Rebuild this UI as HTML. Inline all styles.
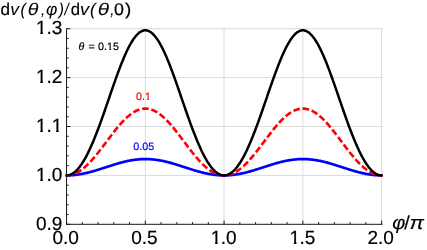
<!DOCTYPE html>
<html><head><meta charset="utf-8"><title>plot</title>
<style>html,body{margin:0;padding:0;background:#fff;}svg{display:block;will-change:transform;}text{text-rendering:geometricPrecision;}</style></head>
<body>
<svg width="427" height="250" viewBox="0 0 427 250">
<defs><clipPath id="c1"><rect x="-1" y="-19.00" width="21.00" height="16.48"/><rect x="4.33" y="-2.72" width="2.58" height="3.72"/></clipPath><clipPath id="c2"><rect x="-1" y="-10.70" width="12.70" height="8.80"/><rect x="2.24" y="-2.10" width="1.85" height="3.10"/></clipPath></defs>
<g stroke="#dbdbdb" stroke-width="1" fill="none"><line x1="145.31" y1="28.70" x2="145.31" y2="224.30"/><line x1="224.07" y1="28.70" x2="224.07" y2="224.30"/><line x1="302.84" y1="28.70" x2="302.84" y2="224.30"/><line x1="381.60" y1="28.70" x2="381.60" y2="224.30"/><line x1="66.55" y1="175.40" x2="382.80" y2="175.40"/><line x1="66.55" y1="126.50" x2="382.80" y2="126.50"/><line x1="66.55" y1="77.60" x2="382.80" y2="77.60"/><line x1="66.55" y1="28.70" x2="382.80" y2="28.70"/></g>
<path d="M66.55,175.40 L67.34,175.40 L68.13,175.38 L68.91,175.36 L69.70,175.34 L70.49,175.30 L71.28,175.26 L72.06,175.20 L72.85,175.14 L73.64,175.08 L74.43,175.00 L75.21,174.92 L76.00,174.83 L76.79,174.73 L77.58,174.62 L78.36,174.51 L79.15,174.39 L79.94,174.26 L80.73,174.13 L81.51,173.99 L82.30,173.84 L83.09,173.69 L83.88,173.53 L84.67,173.36 L85.45,173.19 L86.24,173.01 L87.03,172.82 L87.82,172.63 L88.60,172.44 L89.39,172.24 L90.18,172.03 L90.97,171.82 L91.75,171.61 L92.54,171.39 L93.33,171.17 L94.12,170.94 L94.90,170.71 L95.69,170.48 L96.48,170.24 L97.27,170.00 L98.06,169.76 L98.84,169.51 L99.63,169.26 L100.42,169.02 L101.21,168.76 L101.99,168.51 L102.78,168.26 L103.57,168.00 L104.36,167.75 L105.14,167.49 L105.93,167.23 L106.72,166.98 L107.51,166.72 L108.29,166.47 L109.08,166.21 L109.87,165.96 L110.66,165.70 L111.44,165.45 L112.23,165.20 L113.02,164.96 L113.81,164.71 L114.60,164.47 L115.38,164.23 L116.17,163.99 L116.96,163.76 L117.75,163.53 L118.53,163.30 L119.32,163.08 L120.11,162.86 L120.90,162.64 L121.68,162.43 L122.47,162.23 L123.26,162.03 L124.05,161.83 L124.83,161.64 L125.62,161.46 L126.41,161.28 L127.20,161.11 L127.98,160.94 L128.77,160.78 L129.56,160.63 L130.35,160.48 L131.14,160.34 L131.92,160.20 L132.71,160.08 L133.50,159.96 L134.29,159.84 L135.07,159.74 L135.86,159.64 L136.65,159.55 L137.44,159.47 L138.22,159.39 L139.01,159.32 L139.80,159.26 L140.59,159.21 L141.37,159.17 L142.16,159.13 L142.95,159.10 L143.74,159.08 L144.52,159.07 L145.31,159.07 L146.10,159.07 L146.89,159.08 L147.68,159.10 L148.46,159.13 L149.25,159.17 L150.04,159.21 L150.83,159.26 L151.61,159.32 L152.40,159.39 L153.19,159.47 L153.98,159.55 L154.76,159.64 L155.55,159.74 L156.34,159.84 L157.13,159.96 L157.91,160.08 L158.70,160.20 L159.49,160.34 L160.28,160.48 L161.06,160.63 L161.85,160.78 L162.64,160.94 L163.43,161.11 L164.22,161.28 L165.00,161.46 L165.79,161.64 L166.58,161.83 L167.37,162.03 L168.15,162.23 L168.94,162.43 L169.73,162.64 L170.52,162.86 L171.30,163.08 L172.09,163.30 L172.88,163.53 L173.67,163.76 L174.45,163.99 L175.24,164.23 L176.03,164.47 L176.82,164.71 L177.61,164.96 L178.39,165.20 L179.18,165.45 L179.97,165.70 L180.76,165.96 L181.54,166.21 L182.33,166.47 L183.12,166.72 L183.91,166.98 L184.69,167.23 L185.48,167.49 L186.27,167.75 L187.06,168.00 L187.84,168.26 L188.63,168.51 L189.42,168.76 L190.21,169.02 L190.99,169.26 L191.78,169.51 L192.57,169.76 L193.36,170.00 L194.15,170.24 L194.93,170.48 L195.72,170.71 L196.51,170.94 L197.30,171.17 L198.08,171.39 L198.87,171.61 L199.66,171.82 L200.45,172.03 L201.23,172.24 L202.02,172.44 L202.81,172.63 L203.60,172.82 L204.38,173.01 L205.17,173.19 L205.96,173.36 L206.75,173.53 L207.53,173.69 L208.32,173.84 L209.11,173.99 L209.90,174.13 L210.69,174.26 L211.47,174.39 L212.26,174.51 L213.05,174.62 L213.84,174.73 L214.62,174.83 L215.41,174.92 L216.20,175.00 L216.99,175.08 L217.77,175.14 L218.56,175.20 L219.35,175.26 L220.14,175.30 L220.92,175.34 L221.71,175.36 L222.50,175.38 L223.29,175.40 L224.07,175.40 L224.86,175.40 L225.65,175.38 L226.44,175.36 L227.23,175.34 L228.01,175.30 L228.80,175.26 L229.59,175.20 L230.38,175.14 L231.16,175.08 L231.95,175.00 L232.74,174.92 L233.53,174.83 L234.31,174.73 L235.10,174.62 L235.89,174.51 L236.68,174.39 L237.46,174.26 L238.25,174.13 L239.04,173.99 L239.83,173.84 L240.62,173.69 L241.40,173.53 L242.19,173.36 L242.98,173.19 L243.77,173.01 L244.55,172.82 L245.34,172.63 L246.13,172.44 L246.92,172.24 L247.70,172.03 L248.49,171.82 L249.28,171.61 L250.07,171.39 L250.85,171.17 L251.64,170.94 L252.43,170.71 L253.22,170.48 L254.00,170.24 L254.79,170.00 L255.58,169.76 L256.37,169.51 L257.16,169.26 L257.94,169.02 L258.73,168.76 L259.52,168.51 L260.31,168.26 L261.09,168.00 L261.88,167.75 L262.67,167.49 L263.46,167.23 L264.24,166.98 L265.03,166.72 L265.82,166.47 L266.61,166.21 L267.39,165.96 L268.18,165.70 L268.97,165.45 L269.76,165.20 L270.54,164.96 L271.33,164.71 L272.12,164.47 L272.91,164.23 L273.70,163.99 L274.48,163.76 L275.27,163.53 L276.06,163.30 L276.85,163.08 L277.63,162.86 L278.42,162.64 L279.21,162.43 L280.00,162.23 L280.78,162.03 L281.57,161.83 L282.36,161.64 L283.15,161.46 L283.93,161.28 L284.72,161.11 L285.51,160.94 L286.30,160.78 L287.08,160.63 L287.87,160.48 L288.66,160.34 L289.45,160.20 L290.24,160.08 L291.02,159.96 L291.81,159.84 L292.60,159.74 L293.39,159.64 L294.17,159.55 L294.96,159.47 L295.75,159.39 L296.54,159.32 L297.32,159.26 L298.11,159.21 L298.90,159.17 L299.69,159.13 L300.47,159.10 L301.26,159.08 L302.05,159.07 L302.84,159.07 L303.63,159.07 L304.41,159.08 L305.20,159.10 L305.99,159.13 L306.78,159.17 L307.56,159.21 L308.35,159.26 L309.14,159.32 L309.93,159.39 L310.71,159.47 L311.50,159.55 L312.29,159.64 L313.08,159.74 L313.86,159.84 L314.65,159.96 L315.44,160.08 L316.23,160.20 L317.01,160.34 L317.80,160.48 L318.59,160.63 L319.38,160.78 L320.17,160.94 L320.95,161.11 L321.74,161.28 L322.53,161.46 L323.32,161.64 L324.10,161.83 L324.89,162.03 L325.68,162.23 L326.47,162.43 L327.25,162.64 L328.04,162.86 L328.83,163.08 L329.62,163.30 L330.40,163.53 L331.19,163.76 L331.98,163.99 L332.77,164.23 L333.55,164.47 L334.34,164.71 L335.13,164.96 L335.92,165.20 L336.71,165.45 L337.49,165.70 L338.28,165.96 L339.07,166.21 L339.86,166.47 L340.64,166.72 L341.43,166.98 L342.22,167.23 L343.01,167.49 L343.79,167.75 L344.58,168.00 L345.37,168.26 L346.16,168.51 L346.94,168.76 L347.73,169.02 L348.52,169.26 L349.31,169.51 L350.10,169.76 L350.88,170.00 L351.67,170.24 L352.46,170.48 L353.25,170.71 L354.03,170.94 L354.82,171.17 L355.61,171.39 L356.40,171.61 L357.18,171.82 L357.97,172.03 L358.76,172.24 L359.55,172.44 L360.33,172.63 L361.12,172.82 L361.91,173.01 L362.70,173.19 L363.48,173.36 L364.27,173.53 L365.06,173.69 L365.85,173.84 L366.64,173.99 L367.42,174.13 L368.21,174.26 L369.00,174.39 L369.79,174.51 L370.57,174.62 L371.36,174.73 L372.15,174.83 L372.94,174.92 L373.72,175.00 L374.51,175.08 L375.30,175.14 L376.09,175.20 L376.87,175.26 L377.66,175.30 L378.45,175.34 L379.24,175.36 L380.02,175.38 L380.81,175.40 L381.60,175.40" fill="none" stroke="#0000ff" stroke-width="2.7" stroke-linejoin="round"/>
<path d="M66.55,175.40 L67.34,175.38 L68.13,175.34 L68.91,175.26 L69.70,175.14 L70.49,175.00 L71.28,174.83 L72.06,174.62 L72.85,174.38 L73.64,174.11 L74.43,173.81 L75.21,173.48 L76.00,173.12 L76.79,172.73 L77.58,172.31 L78.36,171.86 L79.15,171.38 L79.94,170.88 L80.73,170.34 L81.51,169.78 L82.30,169.19 L83.09,168.58 L83.88,167.93 L84.67,167.27 L85.45,166.58 L86.24,165.86 L87.03,165.12 L87.82,164.36 L88.60,163.58 L89.39,162.78 L90.18,161.95 L90.97,161.11 L91.75,160.25 L92.54,159.36 L93.33,158.47 L94.12,157.55 L94.90,156.62 L95.69,155.68 L96.48,154.72 L97.27,153.75 L98.06,152.76 L98.84,151.77 L99.63,150.77 L100.42,149.75 L101.21,148.73 L101.99,147.70 L102.78,146.67 L103.57,145.63 L104.36,144.59 L105.14,143.54 L105.93,142.49 L106.72,141.44 L107.51,140.39 L108.29,139.34 L109.08,138.30 L109.87,137.25 L110.66,136.21 L111.44,135.18 L112.23,134.15 L113.02,133.13 L113.81,132.12 L114.60,131.12 L115.38,130.13 L116.17,129.15 L116.96,128.18 L117.75,127.23 L118.53,126.29 L119.32,125.36 L120.11,124.45 L120.90,123.56 L121.68,122.69 L122.47,121.84 L123.26,121.00 L124.05,120.19 L124.83,119.40 L125.62,118.63 L126.41,117.88 L127.20,117.16 L127.98,116.47 L128.77,115.79 L129.56,115.15 L130.35,114.53 L131.14,113.94 L131.92,113.38 L132.71,112.85 L133.50,112.34 L134.29,111.87 L135.07,111.43 L135.86,111.01 L136.65,110.63 L137.44,110.28 L138.22,109.97 L139.01,109.68 L139.80,109.43 L140.59,109.21 L141.37,109.03 L142.16,108.87 L142.95,108.76 L143.74,108.67 L144.52,108.62 L145.31,108.60 L146.10,108.62 L146.89,108.67 L147.68,108.76 L148.46,108.87 L149.25,109.03 L150.04,109.21 L150.83,109.43 L151.61,109.68 L152.40,109.97 L153.19,110.28 L153.98,110.63 L154.76,111.01 L155.55,111.43 L156.34,111.87 L157.13,112.34 L157.91,112.85 L158.70,113.38 L159.49,113.94 L160.28,114.53 L161.06,115.15 L161.85,115.79 L162.64,116.47 L163.43,117.16 L164.22,117.88 L165.00,118.63 L165.79,119.40 L166.58,120.19 L167.37,121.00 L168.15,121.84 L168.94,122.69 L169.73,123.56 L170.52,124.45 L171.30,125.36 L172.09,126.29 L172.88,127.23 L173.67,128.18 L174.45,129.15 L175.24,130.13 L176.03,131.12 L176.82,132.12 L177.61,133.13 L178.39,134.15 L179.18,135.18 L179.97,136.21 L180.76,137.25 L181.54,138.30 L182.33,139.34 L183.12,140.39 L183.91,141.44 L184.69,142.49 L185.48,143.54 L186.27,144.59 L187.06,145.63 L187.84,146.67 L188.63,147.70 L189.42,148.73 L190.21,149.75 L190.99,150.77 L191.78,151.77 L192.57,152.76 L193.36,153.75 L194.15,154.72 L194.93,155.68 L195.72,156.62 L196.51,157.55 L197.30,158.47 L198.08,159.36 L198.87,160.25 L199.66,161.11 L200.45,161.95 L201.23,162.78 L202.02,163.58 L202.81,164.36 L203.60,165.12 L204.38,165.86 L205.17,166.58 L205.96,167.27 L206.75,167.93 L207.53,168.58 L208.32,169.19 L209.11,169.78 L209.90,170.34 L210.69,170.88 L211.47,171.38 L212.26,171.86 L213.05,172.31 L213.84,172.73 L214.62,173.12 L215.41,173.48 L216.20,173.81 L216.99,174.11 L217.77,174.38 L218.56,174.62 L219.35,174.83 L220.14,175.00 L220.92,175.14 L221.71,175.26 L222.50,175.34 L223.29,175.38 L224.07,175.40 L224.86,175.38 L225.65,175.34 L226.44,175.26 L227.23,175.14 L228.01,175.00 L228.80,174.83 L229.59,174.62 L230.38,174.38 L231.16,174.11 L231.95,173.81 L232.74,173.48 L233.53,173.12 L234.31,172.73 L235.10,172.31 L235.89,171.86 L236.68,171.38 L237.46,170.88 L238.25,170.34 L239.04,169.78 L239.83,169.19 L240.62,168.58 L241.40,167.93 L242.19,167.27 L242.98,166.58 L243.77,165.86 L244.55,165.12 L245.34,164.36 L246.13,163.58 L246.92,162.78 L247.70,161.95 L248.49,161.11 L249.28,160.25 L250.07,159.36 L250.85,158.47 L251.64,157.55 L252.43,156.62 L253.22,155.68 L254.00,154.72 L254.79,153.75 L255.58,152.76 L256.37,151.77 L257.16,150.77 L257.94,149.75 L258.73,148.73 L259.52,147.70 L260.31,146.67 L261.09,145.63 L261.88,144.59 L262.67,143.54 L263.46,142.49 L264.24,141.44 L265.03,140.39 L265.82,139.34 L266.61,138.30 L267.39,137.25 L268.18,136.21 L268.97,135.18 L269.76,134.15 L270.54,133.13 L271.33,132.12 L272.12,131.12 L272.91,130.13 L273.70,129.15 L274.48,128.18 L275.27,127.23 L276.06,126.29 L276.85,125.36 L277.63,124.45 L278.42,123.56 L279.21,122.69 L280.00,121.84 L280.78,121.00 L281.57,120.19 L282.36,119.40 L283.15,118.63 L283.93,117.88 L284.72,117.16 L285.51,116.47 L286.30,115.79 L287.08,115.15 L287.87,114.53 L288.66,113.94 L289.45,113.38 L290.24,112.85 L291.02,112.34 L291.81,111.87 L292.60,111.43 L293.39,111.01 L294.17,110.63 L294.96,110.28 L295.75,109.97 L296.54,109.68 L297.32,109.43 L298.11,109.21 L298.90,109.03 L299.69,108.87 L300.47,108.76 L301.26,108.67 L302.05,108.62 L302.84,108.60 L303.63,108.62 L304.41,108.67 L305.20,108.76 L305.99,108.87 L306.78,109.03 L307.56,109.21 L308.35,109.43 L309.14,109.68 L309.93,109.97 L310.71,110.28 L311.50,110.63 L312.29,111.01 L313.08,111.43 L313.86,111.87 L314.65,112.34 L315.44,112.85 L316.23,113.38 L317.01,113.94 L317.80,114.53 L318.59,115.15 L319.38,115.79 L320.17,116.47 L320.95,117.16 L321.74,117.88 L322.53,118.63 L323.32,119.40 L324.10,120.19 L324.89,121.00 L325.68,121.84 L326.47,122.69 L327.25,123.56 L328.04,124.45 L328.83,125.36 L329.62,126.29 L330.40,127.23 L331.19,128.18 L331.98,129.15 L332.77,130.13 L333.55,131.12 L334.34,132.12 L335.13,133.13 L335.92,134.15 L336.71,135.18 L337.49,136.21 L338.28,137.25 L339.07,138.30 L339.86,139.34 L340.64,140.39 L341.43,141.44 L342.22,142.49 L343.01,143.54 L343.79,144.59 L344.58,145.63 L345.37,146.67 L346.16,147.70 L346.94,148.73 L347.73,149.75 L348.52,150.77 L349.31,151.77 L350.10,152.76 L350.88,153.75 L351.67,154.72 L352.46,155.68 L353.25,156.62 L354.03,157.55 L354.82,158.47 L355.61,159.36 L356.40,160.25 L357.18,161.11 L357.97,161.95 L358.76,162.78 L359.55,163.58 L360.33,164.36 L361.12,165.12 L361.91,165.86 L362.70,166.58 L363.48,167.27 L364.27,167.93 L365.06,168.58 L365.85,169.19 L366.64,169.78 L367.42,170.34 L368.21,170.88 L369.00,171.38 L369.79,171.86 L370.57,172.31 L371.36,172.73 L372.15,173.12 L372.94,173.48 L373.72,173.81 L374.51,174.11 L375.30,174.38 L376.09,174.62 L376.87,174.83 L377.66,175.00 L378.45,175.14 L379.24,175.26 L380.02,175.34 L380.81,175.38 L381.60,175.40" fill="none" stroke="#ff0000" stroke-width="2.6" stroke-dasharray="6.6 2.8" stroke-linejoin="round"/>
<path d="M66.55,175.40 L67.34,175.37 L68.13,175.27 L68.91,175.12 L69.70,174.90 L70.49,174.61 L71.28,174.27 L72.06,173.86 L72.85,173.39 L73.64,172.86 L74.43,172.26 L75.21,171.61 L76.00,170.89 L76.79,170.12 L77.58,169.28 L78.36,168.39 L79.15,167.43 L79.94,166.42 L80.73,165.35 L81.51,164.23 L82.30,163.04 L83.09,161.81 L83.88,160.52 L84.67,159.17 L85.45,157.77 L86.24,156.32 L87.03,154.82 L87.82,153.27 L88.60,151.67 L89.39,150.03 L90.18,148.34 L90.97,146.60 L91.75,144.82 L92.54,143.00 L93.33,141.14 L94.12,139.24 L94.90,137.30 L95.69,135.32 L96.48,133.31 L97.27,131.27 L98.06,129.20 L98.84,127.10 L99.63,124.97 L100.42,122.82 L101.21,120.64 L101.99,118.44 L102.78,116.22 L103.57,113.99 L104.36,111.73 L105.14,109.47 L105.93,107.20 L106.72,104.91 L107.51,102.62 L108.29,100.33 L109.08,98.04 L109.87,95.74 L110.66,93.45 L111.44,91.17 L112.23,88.89 L113.02,86.62 L113.81,84.37 L114.60,82.13 L115.38,79.90 L116.17,77.70 L116.96,75.52 L117.75,73.37 L118.53,71.24 L119.32,69.14 L120.11,67.08 L120.90,65.05 L121.68,63.06 L122.47,61.10 L123.26,59.19 L124.05,57.33 L124.83,55.50 L125.62,53.73 L126.41,52.01 L127.20,50.34 L127.98,48.72 L128.77,47.17 L129.56,45.67 L130.35,44.23 L131.14,42.85 L131.92,41.54 L132.71,40.29 L133.50,39.11 L134.29,38.00 L135.07,36.96 L135.86,36.00 L136.65,35.10 L137.44,34.28 L138.22,33.53 L139.01,32.86 L139.80,32.27 L140.59,31.75 L141.37,31.31 L142.16,30.95 L142.95,30.67 L143.74,30.47 L144.52,30.35 L145.31,30.31 L146.10,30.35 L146.89,30.47 L147.68,30.67 L148.46,30.95 L149.25,31.31 L150.04,31.75 L150.83,32.27 L151.61,32.86 L152.40,33.53 L153.19,34.28 L153.98,35.10 L154.76,36.00 L155.55,36.96 L156.34,38.00 L157.13,39.11 L157.91,40.29 L158.70,41.54 L159.49,42.85 L160.28,44.23 L161.06,45.67 L161.85,47.17 L162.64,48.72 L163.43,50.34 L164.22,52.01 L165.00,53.73 L165.79,55.50 L166.58,57.33 L167.37,59.19 L168.15,61.10 L168.94,63.06 L169.73,65.05 L170.52,67.08 L171.30,69.14 L172.09,71.24 L172.88,73.37 L173.67,75.52 L174.45,77.70 L175.24,79.90 L176.03,82.13 L176.82,84.37 L177.61,86.62 L178.39,88.89 L179.18,91.17 L179.97,93.45 L180.76,95.74 L181.54,98.04 L182.33,100.33 L183.12,102.62 L183.91,104.91 L184.69,107.20 L185.48,109.47 L186.27,111.73 L187.06,113.99 L187.84,116.22 L188.63,118.44 L189.42,120.64 L190.21,122.82 L190.99,124.97 L191.78,127.10 L192.57,129.20 L193.36,131.27 L194.15,133.31 L194.93,135.32 L195.72,137.30 L196.51,139.24 L197.30,141.14 L198.08,143.00 L198.87,144.82 L199.66,146.60 L200.45,148.34 L201.23,150.03 L202.02,151.67 L202.81,153.27 L203.60,154.82 L204.38,156.32 L205.17,157.77 L205.96,159.17 L206.75,160.52 L207.53,161.81 L208.32,163.04 L209.11,164.23 L209.90,165.35 L210.69,166.42 L211.47,167.43 L212.26,168.39 L213.05,169.28 L213.84,170.12 L214.62,170.89 L215.41,171.61 L216.20,172.26 L216.99,172.86 L217.77,173.39 L218.56,173.86 L219.35,174.27 L220.14,174.61 L220.92,174.90 L221.71,175.12 L222.50,175.27 L223.29,175.37 L224.07,175.40 L224.86,175.37 L225.65,175.27 L226.44,175.12 L227.23,174.90 L228.01,174.61 L228.80,174.27 L229.59,173.86 L230.38,173.39 L231.16,172.86 L231.95,172.26 L232.74,171.61 L233.53,170.89 L234.31,170.12 L235.10,169.28 L235.89,168.39 L236.68,167.43 L237.46,166.42 L238.25,165.35 L239.04,164.23 L239.83,163.04 L240.62,161.81 L241.40,160.52 L242.19,159.17 L242.98,157.77 L243.77,156.32 L244.55,154.82 L245.34,153.27 L246.13,151.67 L246.92,150.03 L247.70,148.34 L248.49,146.60 L249.28,144.82 L250.07,143.00 L250.85,141.14 L251.64,139.24 L252.43,137.30 L253.22,135.32 L254.00,133.31 L254.79,131.27 L255.58,129.20 L256.37,127.10 L257.16,124.97 L257.94,122.82 L258.73,120.64 L259.52,118.44 L260.31,116.22 L261.09,113.99 L261.88,111.73 L262.67,109.47 L263.46,107.20 L264.24,104.91 L265.03,102.62 L265.82,100.33 L266.61,98.04 L267.39,95.74 L268.18,93.45 L268.97,91.17 L269.76,88.89 L270.54,86.62 L271.33,84.37 L272.12,82.13 L272.91,79.90 L273.70,77.70 L274.48,75.52 L275.27,73.37 L276.06,71.24 L276.85,69.14 L277.63,67.08 L278.42,65.05 L279.21,63.06 L280.00,61.10 L280.78,59.19 L281.57,57.33 L282.36,55.50 L283.15,53.73 L283.93,52.01 L284.72,50.34 L285.51,48.72 L286.30,47.17 L287.08,45.67 L287.87,44.23 L288.66,42.85 L289.45,41.54 L290.24,40.29 L291.02,39.11 L291.81,38.00 L292.60,36.96 L293.39,36.00 L294.17,35.10 L294.96,34.28 L295.75,33.53 L296.54,32.86 L297.32,32.27 L298.11,31.75 L298.90,31.31 L299.69,30.95 L300.47,30.67 L301.26,30.47 L302.05,30.35 L302.84,30.31 L303.63,30.35 L304.41,30.47 L305.20,30.67 L305.99,30.95 L306.78,31.31 L307.56,31.75 L308.35,32.27 L309.14,32.86 L309.93,33.53 L310.71,34.28 L311.50,35.10 L312.29,36.00 L313.08,36.96 L313.86,38.00 L314.65,39.11 L315.44,40.29 L316.23,41.54 L317.01,42.85 L317.80,44.23 L318.59,45.67 L319.38,47.17 L320.17,48.72 L320.95,50.34 L321.74,52.01 L322.53,53.73 L323.32,55.50 L324.10,57.33 L324.89,59.19 L325.68,61.10 L326.47,63.06 L327.25,65.05 L328.04,67.08 L328.83,69.14 L329.62,71.24 L330.40,73.37 L331.19,75.52 L331.98,77.70 L332.77,79.90 L333.55,82.13 L334.34,84.37 L335.13,86.62 L335.92,88.89 L336.71,91.17 L337.49,93.45 L338.28,95.74 L339.07,98.04 L339.86,100.33 L340.64,102.62 L341.43,104.91 L342.22,107.20 L343.01,109.47 L343.79,111.73 L344.58,113.99 L345.37,116.22 L346.16,118.44 L346.94,120.64 L347.73,122.82 L348.52,124.97 L349.31,127.10 L350.10,129.20 L350.88,131.27 L351.67,133.31 L352.46,135.32 L353.25,137.30 L354.03,139.24 L354.82,141.14 L355.61,143.00 L356.40,144.82 L357.18,146.60 L357.97,148.34 L358.76,150.03 L359.55,151.67 L360.33,153.27 L361.12,154.82 L361.91,156.32 L362.70,157.77 L363.48,159.17 L364.27,160.52 L365.06,161.81 L365.85,163.04 L366.64,164.23 L367.42,165.35 L368.21,166.42 L369.00,167.43 L369.79,168.39 L370.57,169.28 L371.36,170.12 L372.15,170.89 L372.94,171.61 L373.72,172.26 L374.51,172.86 L375.30,173.39 L376.09,173.86 L376.87,174.27 L377.66,174.61 L378.45,174.90 L379.24,175.12 L380.02,175.27 L380.81,175.37 L381.60,175.40" fill="none" stroke="#000" stroke-width="2.5" stroke-linejoin="round" stroke-linecap="square"/>
<g stroke="#1a1a1a" stroke-width="1.0" fill="none"><line x1="66.55" y1="28.20" x2="66.55" y2="224.80"/><line x1="66.05" y1="224.30" x2="382.60" y2="224.30"/><line x1="66.55" y1="224.30" x2="66.55" y2="220.70"/><line x1="82.30" y1="224.30" x2="82.30" y2="222.10"/><line x1="98.06" y1="224.30" x2="98.06" y2="222.10"/><line x1="113.81" y1="224.30" x2="113.81" y2="222.10"/><line x1="129.56" y1="224.30" x2="129.56" y2="222.10"/><line x1="145.31" y1="224.30" x2="145.31" y2="220.70"/><line x1="161.06" y1="224.30" x2="161.06" y2="222.10"/><line x1="176.82" y1="224.30" x2="176.82" y2="222.10"/><line x1="192.57" y1="224.30" x2="192.57" y2="222.10"/><line x1="208.32" y1="224.30" x2="208.32" y2="222.10"/><line x1="224.07" y1="224.30" x2="224.07" y2="220.70"/><line x1="239.83" y1="224.30" x2="239.83" y2="222.10"/><line x1="255.58" y1="224.30" x2="255.58" y2="222.10"/><line x1="271.33" y1="224.30" x2="271.33" y2="222.10"/><line x1="287.08" y1="224.30" x2="287.08" y2="222.10"/><line x1="302.84" y1="224.30" x2="302.84" y2="220.70"/><line x1="318.59" y1="224.30" x2="318.59" y2="222.10"/><line x1="334.34" y1="224.30" x2="334.34" y2="222.10"/><line x1="350.10" y1="224.30" x2="350.10" y2="222.10"/><line x1="365.85" y1="224.30" x2="365.85" y2="222.10"/><line x1="381.60" y1="224.30" x2="381.60" y2="220.70"/><line x1="66.55" y1="224.30" x2="70.35" y2="224.30"/><line x1="66.55" y1="214.52" x2="68.65" y2="214.52"/><line x1="66.55" y1="204.74" x2="68.65" y2="204.74"/><line x1="66.55" y1="194.96" x2="68.65" y2="194.96"/><line x1="66.55" y1="185.18" x2="68.65" y2="185.18"/><line x1="66.55" y1="175.40" x2="70.35" y2="175.40"/><line x1="66.55" y1="165.62" x2="68.65" y2="165.62"/><line x1="66.55" y1="155.84" x2="68.65" y2="155.84"/><line x1="66.55" y1="146.06" x2="68.65" y2="146.06"/><line x1="66.55" y1="136.28" x2="68.65" y2="136.28"/><line x1="66.55" y1="126.50" x2="70.35" y2="126.50"/><line x1="66.55" y1="116.72" x2="68.65" y2="116.72"/><line x1="66.55" y1="106.94" x2="68.65" y2="106.94"/><line x1="66.55" y1="97.16" x2="68.65" y2="97.16"/><line x1="66.55" y1="87.38" x2="68.65" y2="87.38"/><line x1="66.55" y1="77.60" x2="70.35" y2="77.60"/><line x1="66.55" y1="67.82" x2="68.65" y2="67.82"/><line x1="66.55" y1="58.04" x2="68.65" y2="58.04"/><line x1="66.55" y1="48.26" x2="68.65" y2="48.26"/><line x1="66.55" y1="38.48" x2="68.65" y2="38.48"/><line x1="66.55" y1="28.70" x2="70.35" y2="28.70"/></g>
<g font-family="'Liberation Sans', sans-serif" font-size="19.0" fill="#000" stroke="#000" stroke-width="0.2"><text x="35.99" y="229.80">0.9</text><g transform="translate(35.99 180.90)" clip-path="url(#c1)"><text>1</text></g><text x="46.55" y="180.90">.0</text><g transform="translate(35.99 132.00)" clip-path="url(#c1)"><text>1</text></g><text x="46.55" y="132.00">.</text><g transform="translate(51.83 132.00)" clip-path="url(#c1)"><text>1</text></g><g transform="translate(35.99 83.10)" clip-path="url(#c1)"><text>1</text></g><text x="46.55" y="83.10">.2</text><g transform="translate(35.99 34.20)" clip-path="url(#c1)"><text>1</text></g><text x="46.55" y="34.20">.3</text><text x="52.44" y="243.80">0.0</text><text x="131.21" y="243.80">0.5</text><g transform="translate(210.77 243.80)" clip-path="url(#c1)"><text>1</text></g><text x="220.84" y="243.80">.0</text><g transform="translate(289.53 243.80)" clip-path="url(#c1)"><text>1</text></g><text x="299.60" y="243.80">.5</text><text x="367.49" y="243.80">2.0</text></g>
<g font-family="'Liberation Sans', sans-serif" font-size="17.0" fill="#000" stroke="#000" stroke-width="0.2"><text transform="translate(0.62 14.80) scale(1.007 1)">d</text><text transform="translate(10.23 14.80) scale(1.032 1)" font-style="italic" stroke-width="0.04">v</text><text transform="translate(20.38 14.80) scale(0.938 1)" font-style="italic" stroke-width="0.04">(</text><text transform="translate(27.72 14.80) scale(1.152 1)" font-style="italic" stroke-width="0.04">θ</text><text transform="translate(40.90 14.80) scale(0.882 1)" font-style="italic" stroke-width="0.04">,</text><text transform="translate(45.99 14.80) scale(1.026 1)" font-style="italic" stroke-width="0.04">φ</text><text transform="translate(58.79 14.80) scale(0.922 1)" font-style="italic" stroke-width="0.04">)</text><text transform="translate(64.53 14.80) scale(0.882 1)" font-style="italic" stroke-width="0.04">/</text><text transform="translate(70.63 14.80) scale(0.980 1)">d</text><text transform="translate(80.00 14.80) scale(1.068 1)" font-style="italic" stroke-width="0.04">v</text><text transform="translate(90.03 14.80) scale(1.002 1)" font-style="italic" stroke-width="0.04">(</text><text transform="translate(97.76 14.80) scale(1.225 1)" font-style="italic" stroke-width="0.04">θ</text><text transform="translate(110.20 14.80) scale(0.882 1)" font-style="italic" stroke-width="0.04">,</text><text transform="translate(114.04 14.80) scale(1.046 1)">0</text><text transform="translate(125.11 14.80) scale(1.109 1)">)</text></g>
<g font-family="'Liberation Sans', sans-serif" font-size="19.0" fill="#000" stroke="#000" stroke-width="0.2"><text transform="translate(392.30 229.00) scale(1.053 1)" font-style="italic" stroke-width="0.16">φ</text><text transform="translate(404.20 229.00) scale(1.053 1)">/</text><text transform="translate(409.53 229.00) scale(1.135 1)" font-style="italic" stroke-width="0.16">π</text></g>
<g font-family="'Liberation Sans', sans-serif" font-size="10.7" stroke-width="0.2"><g fill="#000" stroke="#000"><text x="78.6" y="49.9" font-style="italic">θ</text><text x="88.6" y="49.9">=</text><text x="98.10" y="49.90">0.</text><g transform="translate(107.02 49.90)" clip-path="url(#c2)"><text>1</text></g><text x="112.97" y="49.90">5</text></g><g fill="#f00" stroke="#f00"><text x="136.00" y="99.60">0.</text><g transform="translate(144.92 99.60)" clip-path="url(#c2)"><text>1</text></g></g><g fill="#00f" stroke="#00f"><text x="133.30" y="150.10">0.05</text></g></g>
</svg>
</body></html>
